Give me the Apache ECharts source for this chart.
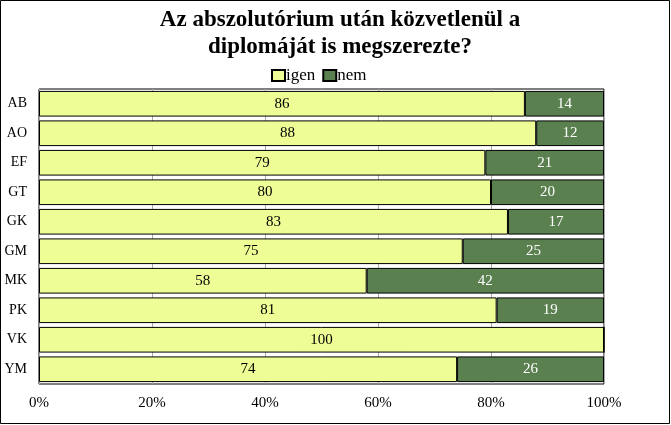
<!DOCTYPE html>
<html><head><meta charset="utf-8">
<script src="https://cdn.jsdelivr.net/npm/echarts@6/dist/echarts.min.js"></script>
<style>html,body{margin:0;padding:0;background:#fff}#c{width:671px;height:425px}</style>
</head><body><div id="c"></div>
<script>
const categories = ['AB','AO','EF','GT','GK','GM','MK','PK','VK','YM'];
const igen = [86,88,79,80,83,75,58,81,100,74];
const nem = [14,12,21,20,17,25,42,19,0,26];
const xTicks = [0,20,40,60,80,100];

const font = '"Liberation Serif","DejaVu Serif",serif';
const chart = echarts.init(document.getElementById('c'), null, {renderer:'canvas'});
chart.setOption({
  animation:false,
  backgroundColor:'#fff',
  graphic:[{type:'rect',shape:{x:0.5,y:0.5,width:669,height:423},style:{fill:'none',stroke:'#000',lineWidth:1},silent:true}],
  title:{text:'Az abszolutórium után közvetlenül a\ndiplomáját is megszerezte?',left:335,textAlign:'center',top:2,
    textStyle:{fontFamily:font,fontWeight:'bold',fontSize:23,lineHeight:27,color:'#000'}},
  legend:{top:62,left:266,itemWidth:13,itemHeight:11,itemGap:7,
    textStyle:{fontFamily:font,fontSize:17,color:'#000',padding:[0,0,0,-4]},
    data:[{name:'igen',icon:'rect'},{name:'nem',icon:'rect'}]},
  grid:{left:39,right:67,top:89,bottom:41,show:true,borderColor:'#000',borderWidth:1,containLabel:false},
  xAxis:{type:'value',min:0,max:100,interval:20,
    axisLabel:{formatter:'{value}%',fontFamily:font,fontSize:15,color:'#000',margin:12},
    axisLine:{show:false},axisTick:{show:false},
    splitLine:{show:true,lineStyle:{color:'#aaa',width:1}}},
  yAxis:{type:'category',inverse:true,data:categories,
    axisLabel:{fontFamily:font,fontSize:14,color:'#000',margin:12},
    axisLine:{show:false},axisTick:{show:false}},
  series:[
    {name:'igen',type:'bar',stack:'s',data:igen,barCategoryGap:'13%',
      itemStyle:{color:'#EFFD96',borderColor:'#000',borderWidth:1},
      label:{show:true,position:'inside',fontFamily:font,fontSize:15,color:'#000',
        formatter:p=>p.value?p.value:''}},
    {name:'nem',type:'bar',stack:'s',data:nem,barCategoryGap:'13%',
      itemStyle:{color:'#5B8050',borderColor:'#000',borderWidth:1},
      label:{show:true,position:'inside',fontFamily:font,fontSize:15,color:'#fff',
        formatter:p=>p.value?p.value:''}}
  ]
});
</script></body></html>
